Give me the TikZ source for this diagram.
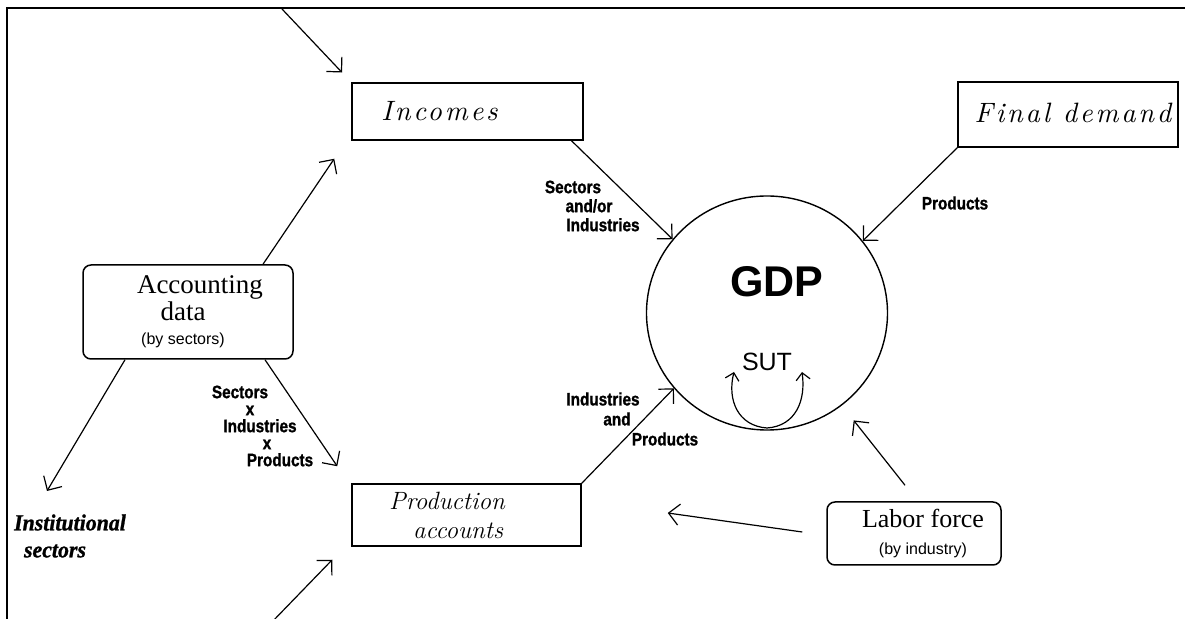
\documentclass[tikz,border=0pt]{standalone}
\usepackage{fontspec}
\usetikzlibrary{arrows.meta,shapes.geometric}
\newfontfamily\lserif{Liberation Serif}
\newfontfamily\lsans{Liberation Sans}
\newfontfamily\lnarrow[FakeStretch=0.85,FakeBold=1.2]{Liberation Sans}
\newfontfamily\lnarrowserif[FakeStretch=0.95,FakeBold=1]{Liberation Serif}
\newfontfamily\spacedit{lmroman10-italic}[Extension=.otf, LetterSpace=10]
\newcommand\cl[2]{\makebox[0pt]{\hspace*{#1}\hspace*{#1}#2}}
\tikzset{
  arr/.style={draw, line width=0.6pt, -{Straight Barb[length=5.3pt,width=10.6pt]}},
  sarr/.style={draw, line width=0.6pt, -{Straight Barb[length=3.5pt,width=7pt]}},
  sbox/.style={draw, line width=0.75pt, inner sep=0pt, align=center},
  rbox/.style={sbox, rounded corners=4pt},
  lbl/.style={align=center, inner sep=0pt},
  lblfont/.style={font=\lnarrow\bfseries\fontsize{9pt}{#1}\selectfont},
  boxit/.style={font=\spacedit\fontsize{14pt}{16pt}\selectfont},
}
\begin{document}
\begin{tikzpicture}[x=0.5pt,y=-0.5pt]
\useasboundingbox (0,0) rectangle (1185,619);
\fill[white] (0,0) rectangle (1185,619);
% frame
\draw[line width=1.2pt] (7,625) -- (7,8) -- (1195,8);

% boxes
\node[sbox, minimum width=115.5pt, minimum height=28.5pt, boxit] (inc) at (467.5,111.5) {\hspace*{-28pt}Incomes};
\node[sbox, minimum width=110pt, minimum height=32.5pt, boxit] (fd) at (1068,114.5) {\hspace*{5pt}\raisebox{1.5pt}{Final demand}};
\node[rbox, minimum width=105pt, minimum height=47pt, font=\lserif\fontsize{13.5pt}{13.5pt}\selectfont] (acc) at (188,312)
  {\hspace*{12pt}Accounting\\\hspace*{-5pt}data\\[-1.5pt]{\lsans\fontsize{8pt}{9.6pt}\selectfont\hspace*{-5pt}(by sectors)}};
\node[sbox, minimum width=114.5pt, minimum height=31pt, font=\itshape\fontsize{12.5pt}{14.5pt}\selectfont] (prod) at (466.5,515)
  {\hspace*{-19.5pt}Production\\\hspace*{-8.5pt}accounts};
\node[rbox, minimum width=87pt, minimum height=31.5pt, font=\lserif\fontsize{13pt}{14.5pt}\selectfont] (lab) at (914,533.5)
  {\hspace*{9pt}Labor force\\[-1pt]{\lsans\fontsize{8pt}{9.6pt}\selectfont\hspace*{9pt}(by industry)}};

% GDP circle
\node[ellipse, draw, line width=0.7pt, minimum width=120.5pt, minimum height=117pt, inner sep=0pt] (gdp) at (767,313) {};
\node[inner sep=0pt, font=\lsans\bfseries\fontsize{21.5pt}{24pt}\selectfont] (gdptxt) at (777,282) {GDP};
\node[inner sep=0pt, font=\lsans\fontsize{12.5pt}{14pt}\selectfont] (sut) at (767,362) {SUT};
\coordinate (sutb) at (767,428);
\draw[sarr] (sutb) .. controls (738,426) and (727,400) .. (734,372);
\draw[sarr] (sutb) .. controls (796,426) and (806,400) .. (802,372);

% labels
\node[lbl, lblfont=9.5pt] (lblA) at (573,206) {\cl{0pt}{Sectors}\\\cl{8pt}{and/or}\\\cl{15pt}{Industries}};
\node[lbl, lblfont=8.5pt] (lblB) at (240,426) {\cl{0pt}{Sectors}\\\cl{5pt}{x}\\\cl{10pt}{Industries}\\\cl{13.5pt}{x}\\\cl{20pt}{Products}};
\node[lbl, lblfont=10pt] (lblC) at (603,419) {\cl{0pt}{Industries}\\\cl{7pt}{and}\\\cl{31pt}{Products}};
\node[lbl, lblfont=10pt] (lblD) at (955,203) {Products};
\node[lbl, font=\lnarrowserif\bfseries\itshape\fontsize{11.5pt}{13.5pt}\selectfont] (inst) at (70,536) {\cl{0pt}{Institutional}\\\cl{-7.5pt}{sectors}};

% connectors
\coordinate (t0) at (282,9);
\coordinate (b0) at (272,622);
\coordinate (instTip) at (47,491);
\draw[arr, shorten >=6.7pt] (t0) -- (inc.north west);
\draw[arr] ([xshift=37.5pt]acc.north) -- ([shift={(-8.5pt,-9pt)}]inc.south west);
\draw[arr] ([xshift=52pt]inc.south) -- (gdp.142.5);
\draw[arr] (fd.south west) -- (gdp.37);
\draw[arr] ([xshift=38.5pt]acc.south) -- ([shift={(-7pt,8.5pt)}]prod.north west);
\draw[arr] (prod.north east) -- (gdp.219);
\draw[arr] ([xshift=-31.5pt]acc.south) -- (instTip);
\draw[arr] (b0) -- ([shift={(-9.5pt,-6.5pt)}]prod.south west);
\draw[arr, shorten >=9.5pt] ([shift={(-4.5pt,8pt)}]lab.north) -- (gdp.-51);
\draw[arr] ([shift={(-12pt,0.75pt)}]lab.west) -- ([shift={(43pt,1pt)}]prod.east);
\end{tikzpicture}
\end{document}
